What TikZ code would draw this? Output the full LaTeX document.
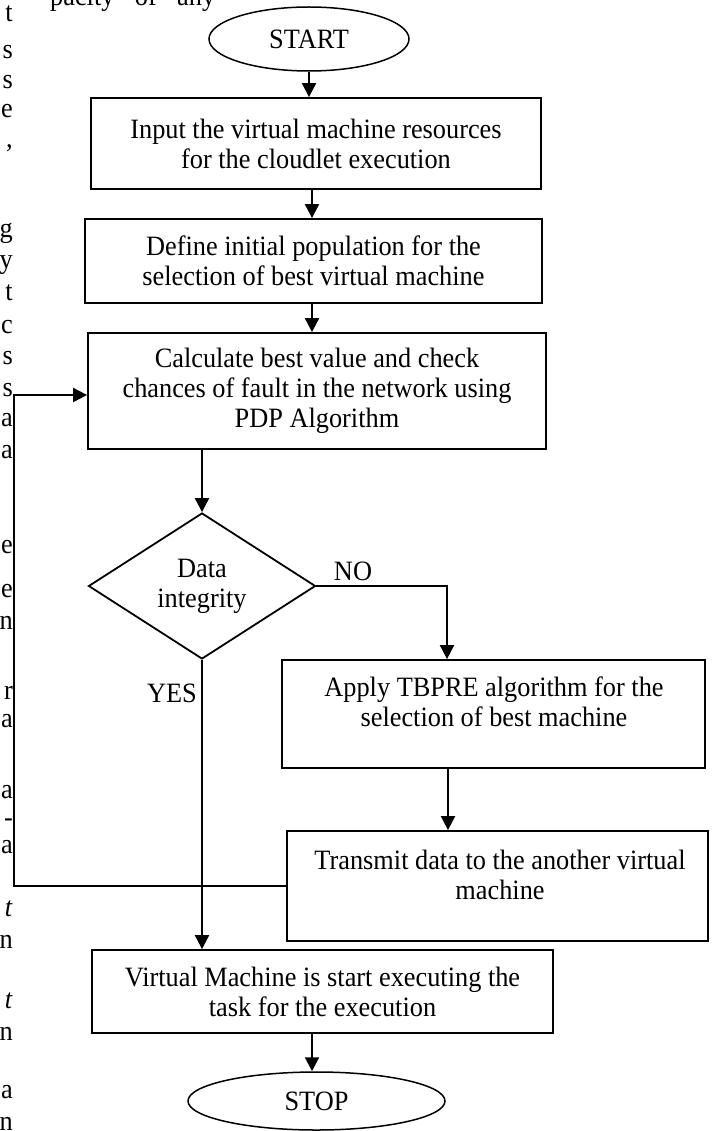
\documentclass[tikz,border=0pt]{standalone}
\usepackage{fontspec}
\setmainfont[FakeStretch=0.94]{Liberation Serif}
\usetikzlibrary{arrows.meta,shapes.geometric}

\begin{document}
\begin{tikzpicture}[x=1pt,y=-1pt,
  font=\fontsize{28}{30}\selectfont,
  stepbox/.style={draw,line width=1.8pt,rectangle,inner sep=0pt,align=center},
  term/.style={draw,line width=1.5pt,ellipse,inner sep=0pt},
  decide/.style={draw,line width=1.8pt,diamond,inner sep=0pt,align=center},
  link/.style={line width=2pt,-{Triangle[length=14pt,width=14pt]}},
  plain/.style={inner sep=0pt,align=center},
  margintext/.style={anchor=base east,inner sep=0pt}
]
\useasboundingbox (0,0) rectangle (712,1131);

% running text of the page column at the left edge
\node[anchor=base west,inner sep=0pt] (runhead) at (50,6) {\makebox[165pt][s]{pacity of any}};
\foreach \yy/\ch [count=\i] in {22/t,59/s,89/s,118/e,148/{,},238/g,269/y,300/t,333/c,364/s,396/s,426/a,458/a,553/e,597/e,629/n,699/r,727/a,798/a,826/-,853/a,916/\textit{t},948/n,1008/\textit{t},1040/n,1098/a,1130/n}
  \node[margintext] (col\i) at (13,\yy) {\ch};

% flow chart
\node[term,minimum width=200pt,minimum height=64pt] (start) at (309,39) {START};
\node[stepbox,minimum width=450pt,minimum height=91pt] (input) at (316,143.5)
  {Input the virtual machine resources\\for the cloudlet execution};
\node[stepbox,minimum width=457pt,minimum height=84pt] (pop) at (313.5,261)
  {Define initial population for the\\selection of best virtual machine};
\node[stepbox,minimum width=458pt,minimum height=116pt] (calc) at (317,391)
  {Calculate best value and check\\chances of fault in the network using\\PDP Algorithm};
\node[decide,minimum width=227pt,minimum height=146pt] (dec) at (202,586) {Data\\integrity};
\node[stepbox,minimum width=423pt,minimum height=108pt] (tb) at (493.5,714) {};
\node[plain] (tbtext) at (494,702) {Apply TBPRE algorithm for the\\selection of best machine};
\node[stepbox,minimum width=421pt,minimum height=110pt] (tx) at (497.5,886) {};
\node[plain] (txtext) at (500,875) {Transmit data to the another virtual\\machine};
\node[stepbox,minimum width=461pt,minimum height=83pt] (vm) at (322.5,991.5)
  {Virtual Machine is start executing the\\task for the execution};
\node[term,minimum width=257pt,minimum height=58pt] (stop) at (316.5,1101) {STOP};

\node[plain] (nolab) at (353,571) {NO};
\node[plain] (yeslab) at (172,693) {YES};

\coordinate (loopturn) at (14,395);

% connectors
\draw[link] (start.south) -- (start.south |- input.north);
\draw[link] ([xshift=-4pt]input.south) -- ([xshift=-4pt]input.south |- pop.north);
\draw[link] ([xshift=-1.5pt]pop.south) -- ([xshift=-1.5pt]pop.south |- calc.north);
\draw[link] (calc.south -| dec.north) -- (dec.north);
\draw[link] (dec.east) -| ([xshift=-46.5pt]tb.north);
\draw[link] ([xshift=-45.5pt]tb.south) -- ([xshift=-45.5pt]tb.south |- tx.north);
\draw[link] (tx.west) -| (loopturn) -- (loopturn -| calc.west);
\draw[link] (dec.south) -- (dec.south |- vm.north);
\draw[link] ([xshift=-10.5pt]vm.south) -- ([xshift=-10.5pt]vm.south |- stop.north);
\end{tikzpicture}
\end{document}
